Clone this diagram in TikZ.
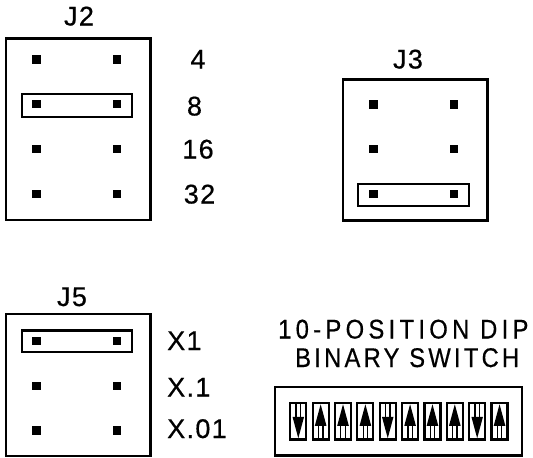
\documentclass[tikz,border=0pt]{standalone}
\usepackage{fontspec}
\setmainfont{Liberation Sans}
\newfontfamily\cadA{Liberation Sans}[LetterSpace=5,FakeBold=0.5]
\newfontfamily\cadB{Liberation Sans}[LetterSpace=16,FakeBold=0.5,FakeStretch=0.88]
\newfontfamily\cadC{Liberation Sans}[LetterSpace=12,FakeBold=0.5,FakeStretch=0.88]
\begin{document}
\begin{tikzpicture}[x=1pt,y=-1pt,
  box/.style={line width=2.4pt},
  jumper/.style={line width=2.2pt},
  pinsq/.style={fill=black,draw=none,inner sep=0pt,minimum size=8.4pt},
  lbl/.style={inner sep=0pt,anchor=base,font=\cadA\fontsize{27}{30}\selectfont},
  dipfont/.style={inner sep=0pt,anchor=base west},
  swup/.pic={
    \draw[line width=2.2pt] (-8,-18.25) rectangle (8,18.25);
    \fill (0,-17) -- (-5.8,4.5) -- (5.8,4.5) -- cycle;
    \draw[line width=1.3pt] (-2.2,4) -- (-2.2,18.25) (2.2,4) -- (2.2,18.25);
  }]
\useasboundingbox (0,0) rectangle (533,458);

% J2
\draw[box] (6,38.5) rectangle (150.5,220);
\foreach \r [count=\i] in {59.5,104.2,149.2,194}{
  \node[pinsq] (j2l\i) at (36.6,\r) {};
  \node[pinsq] (j2r\i) at (117.2,\r) {};
}
\draw[jumper] (22,94.3) rectangle (132.3,116.7);
\node[lbl] (tJ2) at (79,25.5) {J2};
\node[lbl] (t4) at (198,68.5) {4};
\node[lbl] (t8) at (194.5,115.5) {8};
\node[lbl] (t16) at (198,158.5) {16};
\node[lbl] (t32) at (199.5,203.5) {32};

% J3
\draw[box] (342.7,79.3) rectangle (487.5,220.3);
\foreach \r [count=\i] in {104.4,149.2,194.2}{
  \node[pinsq] (j3l\i) at (373.3,\r) {};
  \node[pinsq] (j3r\i) at (453.8,\r) {};
}
\draw[jumper] (357.8,183.6) rectangle (469.2,205.7);
\node[lbl] (tJ3) at (408,68.5) {J3};

% J5
\draw[box] (6,314) rectangle (150.5,456);
\foreach \r [count=\i] in {340.8,385.8,430.6}{
  \node[pinsq] (j5l\i) at (36.6,\r) {};
  \node[pinsq] (j5r\i) at (117.2,\r) {};
}
\draw[jumper] (22,330.5) rectangle (132.3,351.7);
\node[lbl] (tJ5) at (72,306) {J5};
\node[lbl,anchor=base west] (tX1) at (167,350) {X1};
\node[lbl,anchor=base west] (tX2) at (167,396.5) {X.1};
\node[lbl,anchor=base west] (tX3) at (167,438) {X.01};

% DIP switch
\node[dipfont,font=\cadB\fontsize{27}{30}\selectfont] (tdip1) at (278,338.5) {10-POSITION DIP};
\node[dipfont,font=\cadC\fontsize{27}{30}\selectfont] (tdip2) at (295,367) {BINARY SWITCH};
\draw[box] (274.8,386.7) rectangle (521.7,455.5);
\foreach \d [count=\k from 0] in {-1,1,1,1,-1,1,1,1,-1,1}{
  \pic[yscale=\d] at ({298.3+22.36*\k},421.25) {swup};
}
\end{tikzpicture}
\end{document}
